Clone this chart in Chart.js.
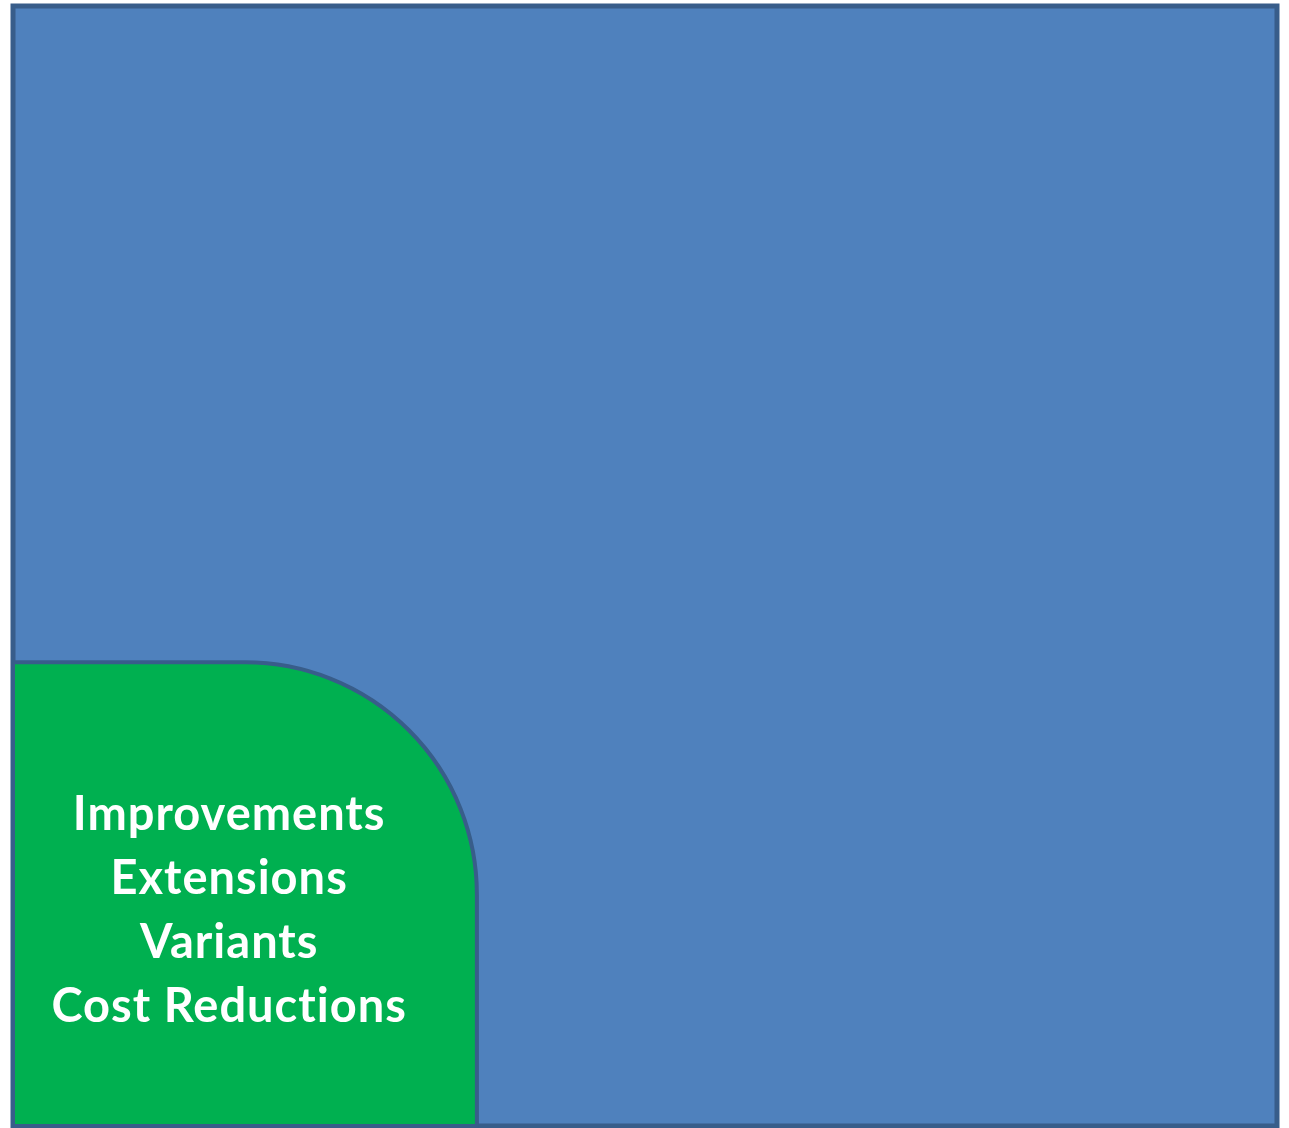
<!DOCTYPE html>
<html>
<head>
<meta charset="utf-8">
<script src="https://cdn.jsdelivr.net/npm/chart.js@4/dist/chart.umd.min.js"></script>
<style>
  html, body { margin: 0; padding: 0; background: #ffffff; }
  #wrap { width: 1289px; height: 1128px; }
</style>
</head>
<body>
<div id="wrap"><canvas id="chart"></canvas></div>
<script>
// regions of the diagram, in percent of the whole space (x from left, y from bottom)
const regionNames = ["Whole space", "Incremental"];
const regionWidths = [100, 36.7];
const regionHeights = [100, 41.4];
const regionColors = ["#4F81BD", "#00B050"];
const cornerRadius = [0, 232];

const labelLines = ["Improvements", "Extensions", "Variants", "Cost Reductions"];

const regionPlugin = {
  id: "regions",
  beforeDatasetsDraw(chart) {
    const ctx = chart.ctx;
    const x = chart.scales.x;
    const y = chart.scales.y;
    ctx.save();
    for (let i = 0; i < regionNames.length; i++) {
      const left = x.getPixelForValue(0);
      const right = x.getPixelForValue(regionWidths[i]);
      const bottom = y.getPixelForValue(0);
      const top = y.getPixelForValue(regionHeights[i]);
      const r = cornerRadius[i];
      ctx.beginPath();
      ctx.moveTo(left, bottom);
      ctx.lineTo(left, top);
      ctx.lineTo(right - r, top);
      if (r > 0) ctx.arcTo(right, top, right, top + r, r);
      ctx.lineTo(right, bottom);
      ctx.closePath();
      ctx.fillStyle = regionColors[i];
      ctx.fill();
      ctx.strokeStyle = "#385D8A";
      ctx.lineWidth = i === 0 ? 5 : 4;
      ctx.stroke();
    }

    // labels inside the small region
    const cx = x.getPixelForValue(regionWidths[1] * 0.466);
    const firstBase = y.getPixelForValue(26.4);
    ctx.fillStyle = "#ffffff";
    ctx.font = "bold 47px Lato";
    ctx.letterSpacing = "1px"; // also keeps "ti" from joining
    ctx.textAlign = "center";
    ctx.textBaseline = "alphabetic";
    labelLines.forEach((line, k) => {
      ctx.fillText(line, cx, firstBase + k * 64);
    });
    ctx.restore();
  }
};

new Chart("chart", {
  type: "scatter",
  data: {
    datasets: [{ data: [] }]
  },
  options: {
    responsive: true,
    maintainAspectRatio: false,
    animation: false,
    layout: { padding: { left: 13, right: 12, top: 6, bottom: 2 } },
    plugins: { legend: { display: false }, tooltip: { enabled: false } },
    scales: {
      x: { type: "linear", min: 0, max: 100, display: false },
      y: { type: "linear", min: 0, max: 100, display: false }
    }
  },
  plugins: [regionPlugin]
});
</script>
</body>
</html>
